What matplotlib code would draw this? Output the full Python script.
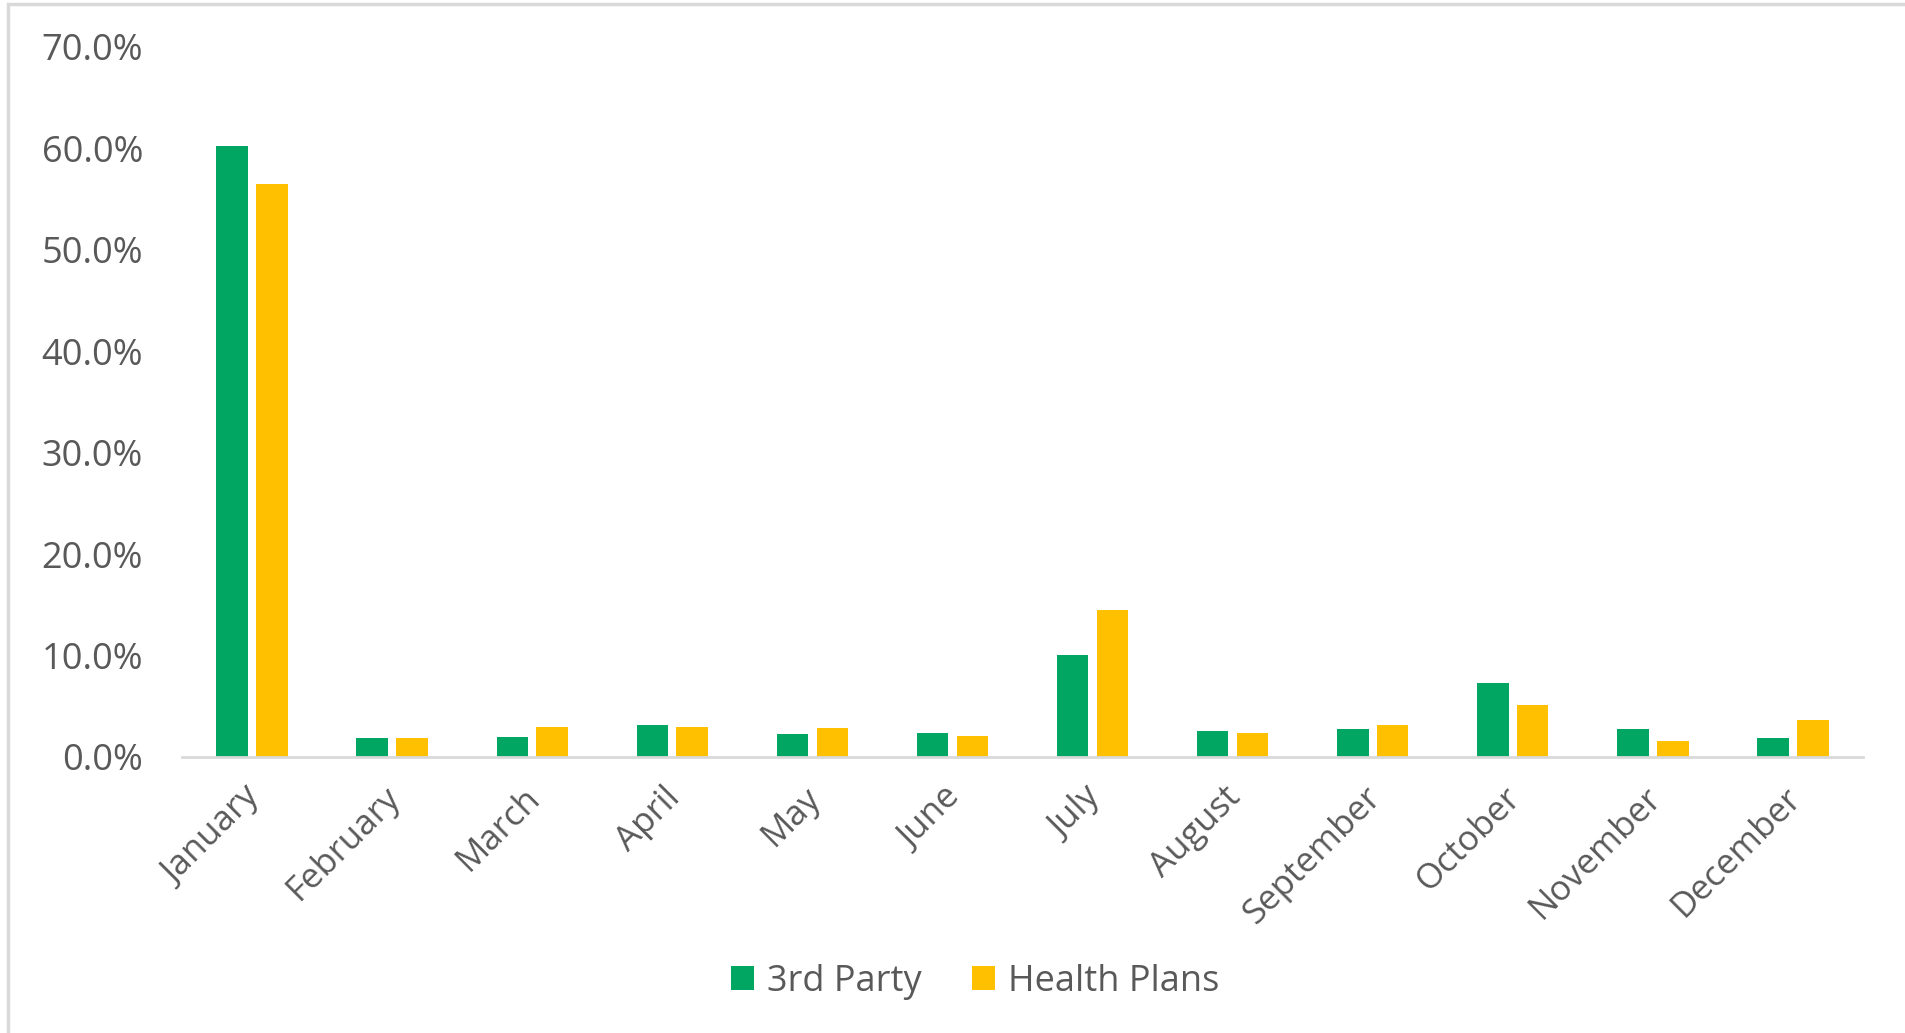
import matplotlib
matplotlib.use("Agg")
import matplotlib.pyplot as plt
import matplotlib.transforms as mtransforms
from matplotlib.patches import Rectangle
from matplotlib.ticker import FuncFormatter
import numpy as np

months = ["January", "February", "March", "April", "May", "June", "July",
          "August", "September", "October", "November", "December"]
third_party = [60.2, 1.85, 1.95, 3.2, 2.3, 2.35, 10.1, 2.6, 2.8, 7.3, 2.8, 1.85]
health_plans = [56.5, 1.9, 2.95, 2.95, 2.85, 2.05, 14.45, 2.35, 3.15, 5.15, 1.55, 3.6]
series_names = ["3rd Party", "Health Plans"]
yticks = [0, 10, 20, 30, 40, 50, 60, 70]

GREEN = "#00A661"
YELLOW = "#FFC000"
TEXT = "#595959"
FONT = "Open Sans"
FS = 26

plt.rcParams['font.family'] = [FONT, 'DejaVu Sans']

fig = plt.figure(figsize=(19.06, 10.33), dpi=100)
ax = fig.add_axes([182/1906, 1-757/1033, (1863-182)/1906, (757-47)/1033])

x = np.arange(len(months))
w = 0.225
off = 0.142
ax.bar(x - off, third_party, w, color=GREEN, label=series_names[0], zorder=3)
ax.bar(x + off, health_plans, w, color=YELLOW, label=series_names[1], zorder=3)

ax.set_xlim(-0.5, len(months) - 0.5)
ax.set_ylim(0, 70)
ax.set_yticks(yticks)
ax.yaxis.set_major_formatter(FuncFormatter(lambda v, p: f"{v:.1f}%"))
ax.tick_params(axis='y', length=0, pad=28, labelsize=FS, labelcolor=TEXT)
ax.set_xticks(x)
ax.set_xticklabels(months, rotation=45, ha='right', va='top', rotation_mode='anchor')
ax.tick_params(axis='x', length=0, pad=17, labelsize=25, labelcolor=TEXT)
shift = mtransforms.ScaledTranslation(-0.09, 0, fig.dpi_scale_trans)
for lab in ax.get_xticklabels():
    lab.set_transform(lab.get_transform() + shift)

for s in ["top", "right", "left"]:
    ax.spines[s].set_visible(False)
ax.spines["bottom"].set_color("#D9D9D9")
ax.spines["bottom"].set_linewidth(2)
ax.spines["bottom"].set_zorder(4)

leg = fig.legend(loc='center', bbox_to_anchor=(975/1906, 1-982/1033), ncol=2, frameon=False,
                 fontsize=FS, handlelength=0.65, handleheight=0.65, handletextpad=0.35,
                 columnspacing=1.4)
for t in leg.get_texts():
    t.set_color(TEXT)

border = Rectangle((8/1906, -0.05), 1.1, 1 - 4/1033 + 0.05, transform=fig.transFigure,
                   fill=False, edgecolor="#D9D9D9", linewidth=2.5, clip_on=False)
fig.patches.append(border)

fig.savefig("out.png", dpi=100)
